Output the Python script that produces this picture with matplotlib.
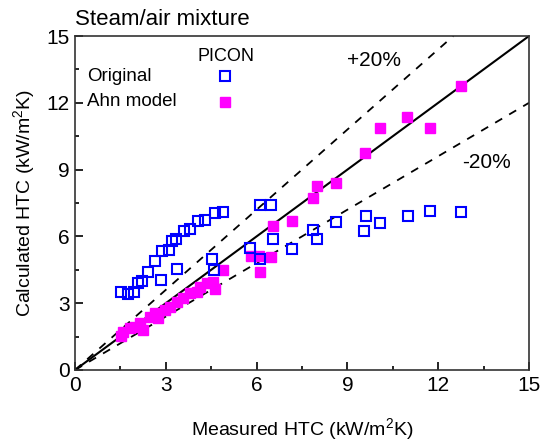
import matplotlib
matplotlib.use("Agg")
import matplotlib.pyplot as plt
from matplotlib.ticker import MultipleLocator

plt.rcParams['font.family'] = ['Liberation Sans', 'DejaVu Sans']
plt.rcParams['mathtext.fontset'] = 'custom'
plt.rcParams['mathtext.rm'] = 'Liberation Sans'

# PICON original correlation (measured, calculated)
orig_meas = [1.51, 1.76, 1.95, 2.09, 2.22, 2.41, 2.64, 2.88, 3.11, 3.19,
             3.35, 3.59, 3.81, 4.06, 4.29, 4.63, 4.88, 2.83, 3.37, 4.53,
             4.60, 6.12, 6.49, 5.79, 6.10, 6.53, 7.18, 7.87, 8.01, 8.62,
             9.56, 9.61, 10.08, 10.99, 11.73, 12.74]
orig_calc = [3.49, 3.43, 3.49, 3.91, 4.00, 4.40, 4.88, 5.34, 5.39, 5.81,
             5.87, 6.26, 6.32, 6.68, 6.74, 7.06, 7.09, 4.03, 4.52, 4.98,
             4.49, 7.41, 7.41, 5.49, 4.97, 5.88, 5.45, 6.29, 5.87, 6.63,
             6.26, 6.93, 6.61, 6.90, 7.13, 7.09]

# PICON with Ahn model
ahn_meas = [1.51, 1.60, 1.82, 1.98, 2.15, 2.26, 2.48, 2.64, 2.75, 2.97,
            3.14, 3.36, 3.58, 3.80, 4.02, 4.13, 4.35, 4.57, 4.63, 4.88,
            5.80, 6.09, 6.49, 6.12, 6.53, 7.18, 7.85, 8.00, 8.62, 9.59,
            10.08, 10.98, 11.73, 12.75]
ahn_calc = [1.53, 1.72, 1.87, 1.95, 2.10, 1.80, 2.39, 2.54, 2.32, 2.69,
            2.84, 3.07, 3.22, 3.44, 3.52, 3.74, 3.89, 3.96, 3.62, 4.48,
            5.13, 5.13, 5.09, 4.40, 6.47, 6.68, 7.71, 8.26, 8.40, 9.73,
            10.85, 11.36, 10.85, 12.75]

fig = plt.figure(figsize=(5.46, 4.44), dpi=100)
ax = fig.add_axes([0.1374, 0.1667, 0.8315, 0.7522])

# parity line and +/-20 % bounds
ax.plot([0, 15], [0, 15], color='black', lw=1.5, zorder=1)
ax.plot([0, 12.5], [0, 15], color='black', lw=1.3, ls=(0, (4.5, 4.5)), zorder=1)
ax.plot([0, 15], [0, 12], color='black', lw=1.3, ls=(0, (4.5, 4.5)), zorder=1)

ax.plot(orig_meas, orig_calc, 's', ms=6.8, mfc='none', mec='#0000ff', mew=1.5,
        ls='none', zorder=3)
ax.plot(ahn_meas, ahn_calc, 's', ms=6.8, mfc='#ff00ff', mec='#ff00ff', mew=1,
        ls='none', zorder=2)

ax.set_xlim(0, 15)
ax.set_ylim(0, 15)
ax.xaxis.set_major_locator(MultipleLocator(3))
ax.xaxis.set_minor_locator(MultipleLocator(1.5))
ax.yaxis.set_major_locator(MultipleLocator(3))
ax.yaxis.set_minor_locator(MultipleLocator(1.5))
ax.tick_params(which='both', direction='in', top=False, right=False,
               labelsize=15, width=1.2)
ax.tick_params(which='major', length=6, pad=4)
ax.tick_params(which='minor', length=3)
for s in ax.spines.values():
    s.set_linewidth(1.2)
    s.set_color('#333333')

ax.set_xlabel('Measured HTC (kW/m$^2$K)', fontsize=14, labelpad=16)
ax.set_ylabel('Calculated HTC (kW/m$^2$K)', fontsize=14, labelpad=6)

fig.text(0.1374, 0.932, 'Steam/air mixture', fontsize=16, ha='left',
         va='bottom')

# legend drawn by hand
ax.text(5.0, 14.1, 'PICON', fontsize=13, ha='center', va='center')
ax.text(0.4, 13.2, 'Original', fontsize=13.5, ha='left', va='center')
ax.text(0.4, 12.05, 'Ahn model', fontsize=13.5, ha='left', va='center')
ax.plot([4.96], [13.2], 's', ms=6.8, mfc='none', mec='#0000ff', mew=1.5)
ax.plot([4.96], [12.05], 's', ms=6.8, mfc='#ff00ff', mec='#ff00ff')

ax.text(9.88, 13.9, '+20%', fontsize=15, ha='center', va='center')
ax.text(13.58, 9.34, '-20%', fontsize=15, ha='center', va='center')

fig.savefig('out.png', dpi=100)
